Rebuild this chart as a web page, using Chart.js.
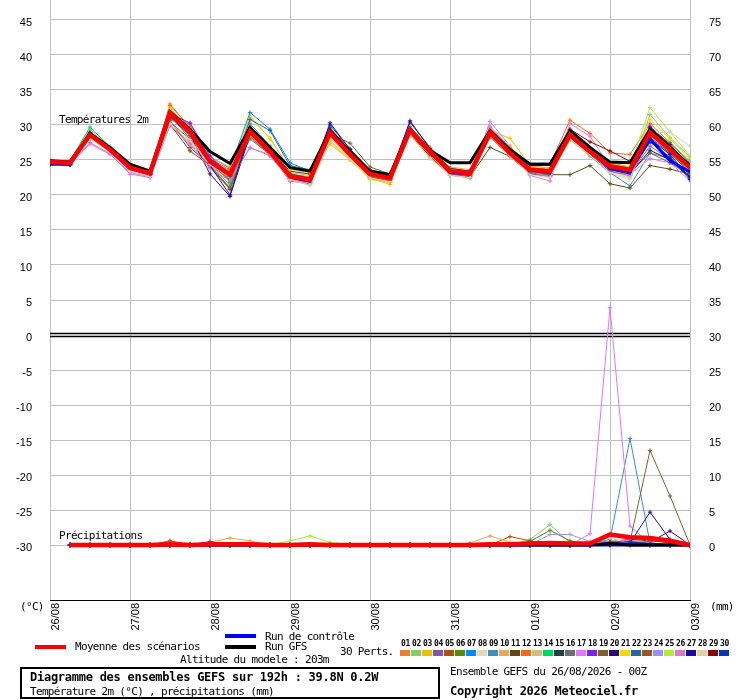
<!DOCTYPE html>
<html>
<head>
<meta charset="utf-8">
<script src="https://cdn.jsdelivr.net/npm/chart.js@4.4.1/dist/chart.umd.min.js"></script>
<style>
html,body{margin:0;padding:0;background:#fff;}
#wrap{position:relative;width:740px;height:700px;overflow:hidden;background:#fff;}
#c{position:absolute;left:0;top:0;}
.t{position:absolute;font-family:'DejaVu Sans Mono',monospace;font-size:11px;letter-spacing:-0.67px;color:#000;white-space:nowrap;line-height:12px;}
.b{font-weight:bold;font-size:12px;letter-spacing:-0.26px;}
.bar{position:absolute;height:4px;width:31px;}
.num{position:absolute;top:639px;width:11px;text-align:center;font-family:'DejaVu Sans Mono',monospace;font-weight:bold;font-size:8px;letter-spacing:-0.4px;line-height:9px;color:#000;}
.box{position:absolute;top:650px;width:10px;height:6px;}
#frame{position:absolute;left:20px;top:667px;width:420px;height:32px;box-sizing:border-box;border:2px solid #000;}
</style>
</head>
<body>
<div id="wrap">
<canvas id="c" width="740" height="700"></canvas>
<div class="t" style="left:59px;top:114px">Températures 2m</div>
<div class="t" style="left:59px;top:530px">Précipitations</div>
<div class="t" style="left:20px;top:601px">(°C)</div>
<div class="t" style="left:710px;top:601px">(mm)</div>
<div class="bar" style="left:35px;top:645px;background:#ff0000"></div>
<div class="t" style="left:75px;top:641px">Moyenne des scénarios</div>
<div class="bar" style="left:225px;top:634px;background:#0000ff"></div>
<div class="t" style="left:265px;top:631px">Run de contrôle</div>
<div class="bar" style="left:225px;top:645px;background:#000000"></div>
<div class="t" style="left:265px;top:641px">Run GFS</div>
<div class="t" style="left:180px;top:654px">Altitude du modele : 203m</div>
<div class="t" style="left:340px;top:646px">30 Perts.</div>
<div id="perts"></div>
<div id="frame"></div>
<div class="t b" style="left:30px;top:671px">Diagramme des ensembles GEFS sur 192h : 39.8N 0.2W</div>
<div class="t" style="left:30px;top:686px">Température 2m (°C) , précipitations (mm)</div>
<div class="t" style="left:450px;top:666px">Ensemble GEFS du 26/08/2026 - 00Z</div>
<div class="t b" style="left:450px;top:685px">Copyright 2026 Meteociel.fr</div>
</div>
<script>
// ---- x axis ----
const hours = [0,6,12,18,24,30,36,42,48,54,60,66,72,78,84,90,96,102,108,114,120,126,132,138,144,150,156,162,168,174,180,186,192];
const dayHours = [0,24,48,72,96,120,144,168,192];
const dayLabels = ['26/08','27/08','28/08','29/08','30/08','31/08','01/09','02/09','03/09'];
const leftTicks = [-30,-25,-20,-15,-10,-5,0,5,10,15,20,25,30,35,40,45];
const rightTicks = [0,5,10,15,20,25,30,35,40,45,50,55,60,65,70,75];

// ---- temperature 2m (°C) ----
const tMean = [24.7,24.6,28.6,26.5,23.9,23.1,31.7,29.1,24.8, 22.9,29.1,26.2,22.7,22.2,28.9,25.8,23.0, 22.4,29.3,26.2,23.4,23.1,28.9,26.0,23.6, 23.4,28.6,26.2,24.1,23.6,28.9,26.5,23.9];
const tControl = [24.4,24.4,28.8,26.5,23.8,23.0,31.5,29.4,25.0, 22.9,29.6,26.4,22.6,22.0,29.0,26.0,23.0, 22.4,29.4,26.2,23.2,23.0,29.0,26.2,24.4, 24.4,29.0,26.4,23.8,23.4,28.0,24.9,23.3];
const tGFS = [24.9,24.7,28.8,26.8,24.4,23.4,31.9,29.4,26.2, 24.5,29.6,26.8,23.9,23.4,29.2,26.2,23.4, 22.9,29.4,26.4,24.6,24.6,29.2,26.5,24.4, 24.4,29.2,26.8,24.7,24.6,29.4,26.8,24.2];
const t01 = [24.6,24.5,28.9,26.6,24.0,23.2,33.0,29.5,25.0, 23.4,29.5,26.5,23.0,22.6,29.2,26.0,23.2, 22.8,29.8,26.5,23.8,23.5,29.4,26.4,24.0, 23.6,29.2,26.8,24.6,24.0,29.6,27.0,24.4];
const t02 = [24.8,24.7,29.4,26.8,24.2,23.3,31.2,28.6,24.4, 22.5,28.5,25.9,22.3,21.8,28.6,25.5,22.6, 22.0,28.8,26.0,23.1,22.8,28.4,25.8,23.2, 22.9,28.2,26.0,23.8,23.2,31.5,28.2,25.4];
const t03 = [24.5,24.4,28.2,26.3,23.7,23.0,32.6,28.9,24.6, 22.8,31.3,28.0,23.8,23.4,27.3,25.0,22.4, 21.5,29.0,26.5,23.5,23.2,29.2,28.1,24.2, 23.8,28.9,26.5,24.0,23.4,29.4,26.8,24.0];
const t04 = [24.6,24.5,28.3,26.4,23.8,23.0,30.8,30.2,25.2, 21.8,29.6,26.4,22.9,22.3,29.0,25.9,23.1, 22.5,29.4,26.3,23.3,23.0,29.0,26.1,23.5, 23.2,28.4,26.1,23.9,23.4,28.6,26.4,23.5];
const t05 = [24.4,24.3,28.5,26.5,23.8,22.9,31.5,28.0,24.0, 20.8,28.4,25.8,22.0,21.6,28.4,25.4,22.4, 21.8,29.0,25.9,23.0,22.6,28.5,25.7,23.2, 23.0,28.8,26.3,24.2,23.8,29.0,26.6,23.8];
const t06 = [24.7,24.6,28.8,26.6,24.0,23.2,31.9,29.0,24.6, 22.0,28.3,25.6,22.4,21.9,28.7,25.6,22.8, 22.2,29.1,26.0,23.2,22.9,28.3,25.6,23.0, 22.8,27.9,25.8,23.6,23.0,28.4,26.0,23.4];
const t07 = [24.6,24.6,28.6,26.4,23.9,23.1,31.3,29.3,25.5, 23.8,31.8,29.4,24.6,23.4,29.2,26.0,23.2, 22.6,29.6,26.4,23.6,23.3,29.0,26.2,23.7, 23.4,28.7,26.3,24.2,23.5,29.1,26.4,23.6];
const t08 = [24.5,24.4,28.0,26.2,23.5,22.8,30.4,27.8,24.2, 22.4,28.6,26.0,22.4,21.9,28.4,25.3,22.6, 22.0,28.9,25.6,23.0,22.8,28.5,25.8,23.1, 22.6,27.8,25.5,23.0,22.2,28.4,26.2,23.4];
const t09 = [24.6,24.5,28.7,26.5,23.9,23.0,31.6,29.0,24.5, 22.6,30.2,27.0,22.8,22.1,29.0,25.8,22.9, 22.3,29.3,26.2,23.3,23.0,28.8,26.0,23.3, 23.1,28.2,25.6,23.2,21.3,26.0,25.2,23.0];
const t10 = [24.7,24.6,28.4,26.6,24.1,23.4,32.2,29.6,25.4, 24.0,29.8,26.8,23.2,22.8,29.4,26.2,23.4, 22.9,29.7,26.6,24.0,23.6,29.3,26.5,24.1, 23.9,29.0,26.7,24.5,24.0,29.6,27.1,24.2];
const t11 = [24.5,24.4,28.3,26.3,23.7,22.9,30.1,26.3,24.2, 21.0,28.8,26.0,22.6,22.0,28.6,25.6,22.8, 22.2,28.7,25.5,22.8,22.6,26.8,25.5,23.0, 22.9,22.9,24.2,21.6,21.0,24.2,23.7,23.0];
const t12 = [24.6,24.5,28.9,26.7,24.1,23.3,32.8,29.8,25.2, 23.6,29.3,26.4,23.0,22.4,29.0,26.0,23.2, 22.6,29.5,26.4,23.8,23.4,29.6,26.6,24.3, 24.4,30.7,28.8,26.0,25.8,30.2,27.5,24.8];
const t13 = [24.6,24.5,28.1,26.2,23.6,22.9,30.0,27.6,24.0, 22.3,28.2,25.7,22.1,21.4,27.6,25.0,22.5, 21.9,28.5,25.3,22.9,22.4,28.2,25.8,23.1, 22.8,28.0,25.6,23.4,22.6,28.0,25.8,23.3];
const t14 = [24.9,24.9,29.7,26.9,24.2,23.4,31.8,29.2,24.4, 21.4,28.4,26.0,22.5,21.7,28.8,25.8,23.0, 22.4,29.2,26.2,23.4,23.1,28.8,26.0,23.4, 23.2,28.5,26.2,23.8,23.4,29.6,27.4,24.6];
const t15 = [24.5,24.5,28.7,26.5,23.9,23.1,31.4,28.8,24.6, 22.4,28.9,26.4,23.4,23.0,30.0,26.6,23.6, 23.0,30.4,26.8,23.8,23.4,28.6,25.9,23.4, 23.2,28.4,26.0,24.0,23.6,27.6,25.4,22.6];
const t16 = [24.6,24.5,28.5,26.4,23.8,23.0,31.0,28.5,24.4, 22.8,28.0,25.8,22.7,22.2,28.6,25.8,23.0, 22.5,29.0,25.9,23.2,22.8,28.3,25.6,23.0, 22.6,28.3,25.9,23.6,23.0,27.0,25.0,23.4];
const t17 = [24.6,24.4,27.3,25.8,23.2,22.6,29.9,27.4,24.0, 22.6,26.7,25.8,22.6,22.0,28.2,25.4,22.7, 22.1,29.6,26.0,23.0,22.4,30.5,27.0,22.8, 22.0,30.2,28.4,24.0,23.0,25.2,24.6,22.0];
const t18 = [24.5,24.4,28.7,26.6,24.0,23.2,31.6,30.3,25.6, 22.8,29.0,26.2,22.6,22.1,28.9,25.8,23.0, 22.4,29.3,26.2,23.4,23.1,29.0,26.1,23.6, 23.4,28.8,26.4,24.2,23.7,29.8,27.2,24.0];
const t19 = [24.6,24.5,28.6,26.5,23.9,23.1,30.6,26.8,24.2, 20.9,28.6,26.1,22.6,22.0,28.8,27.4,24.0, 23.0,29.0,26.2,23.3,22.9,28.7,25.9,23.5, 23.2,28.5,26.0,23.8,23.2,26.0,24.6,22.8];
const t20 = [24.4,24.3,28.4,26.3,23.7,22.9,31.2,28.6,23.0, 19.8,28.6,26.0,22.4,21.8,28.7,25.7,22.8, 22.2,29.2,26.1,23.2,22.8,28.8,25.9,23.3, 23.1,28.5,26.0,23.6,23.0,26.4,25.0,22.6];
const t21 = [24.6,24.5,28.8,26.6,24.0,23.2,32.4,29.2,24.9, 23.0,31.0,28.2,23.6,23.2,27.8,25.2,22.2, 21.8,28.9,26.8,23.6,23.3,29.1,27.0,23.9, 23.6,29.0,26.6,24.2,23.8,30.8,28.0,25.2];
const t22 = [24.6,24.5,28.6,26.4,23.8,23.0,31.2,28.8,24.6, 22.4,30.8,29.2,24.2,23.6,29.0,25.9,23.0, 22.4,29.4,26.1,23.3,23.0,28.7,25.8,23.2, 22.8,28.3,25.8,23.4,22.8,28.2,26.0,23.2];
const t23 = [24.5,24.4,28.4,26.4,23.8,23.0,30.4,28.0,24.4, 22.2,28.4,25.8,22.3,21.7,28.4,25.5,22.6, 22.0,28.8,25.8,23.0,22.7,28.4,25.8,23.3, 23.1,28.4,26.0,23.9,23.4,28.8,26.6,23.6];
const t24 = [24.7,24.6,28.5,26.5,23.9,23.1,31.4,28.7,24.6, 22.6,29.0,26.2,22.8,22.2,28.8,25.8,22.9, 22.4,29.2,26.2,23.4,23.1,28.8,26.0,23.5, 23.2,28.6,26.1,23.9,23.4,29.2,27.0,24.2];
const t25 = [24.7,24.6,28.9,26.7,24.1,23.3,32.0,29.4,25.0, 23.2,29.4,26.6,23.0,22.4,29.0,26.0,23.2, 22.6,29.4,26.4,23.6,23.3,29.0,26.2,23.7, 23.5,28.8,26.5,24.4,24.0,32.5,29.0,25.6];
const t26 = [24.5,24.3,27.5,25.9,23.0,22.5,30.0,27.2,23.8, 22.0,26.8,25.6,22.2,21.7,28.4,25.6,22.7, 22.2,29.0,26.1,23.3,23.0,29.8,26.8,23.4, 22.6,28.4,26.0,23.5,22.8,27.8,26.6,24.5];
const t27 = [24.4,24.3,28.8,26.5,23.8,23.0,31.6,29.0,24.2, 20.0,29.2,26.4,22.7,22.2,30.3,26.5,23.2, 22.6,30.6,26.6,23.5,23.1,28.9,26.1,23.4, 23.1,28.8,26.2,23.6,23.2,28.0,25.8,22.4];
const t28 = [24.6,24.5,28.2,26.2,23.4,22.7,30.2,27.9,24.3, 22.5,28.5,26.0,22.2,21.4,28.3,25.2,22.4, 21.9,28.6,25.2,22.8,22.5,28.4,25.6,22.9, 22.5,28.0,25.7,23.2,22.4,28.8,29.0,27.0];
const t29 = [24.6,24.5,28.6,26.5,23.9,23.1,31.8,29.2,24.8, 22.9,29.0,26.2,22.7,22.2,28.9,25.9,23.0, 22.4,29.4,26.3,23.4,23.1,28.9,26.1,23.8, 23.6,29.4,27.6,26.3,24.8,29.6,27.2,24.2];
const t30 = [24.5,24.4,28.9,26.6,23.9,23.0,31.5,29.0,24.7, 22.7,29.6,26.6,23.0,22.4,29.6,26.3,23.3, 22.7,29.5,26.3,23.5,23.2,29.0,26.2,23.6, 23.3,28.9,26.4,23.8,23.3,27.6,25.3,22.2];

// ---- precipitation (mm / 6h) ----
const pMean = [null, 0,0,0,0,0,0.1,0,0.1, 0.1,0.1,0,0,0.1,0,0,0, 0,0,0,0,0,0.1,0.1,0.2, 0.3,0.2,0.2,1.5,1.1,1.0,0.6,0];
const pControl = [null, 0,0,0,0,0,0,0,0, 0,0,0,0,0,0,0,0, 0,0,0,0,0,0,0,0, 0,0,0,0,0,0,0,0];
const pGFS = [null, 0,0,0,0,0,0,0,0, 0,0,0,0,0,0,0,0, 0,0,0,0,0,0,0,0, 0,0,0,0.2,0,0,0,0];
const p01 = [null, 0,0,0,0,0,0.5,0.2,0, 0,0,0,0,0,0,0,0, 0,0,0,0,0,0,0,0, 0,0,0,0.3,0.2,0,0,0];
const p02 = [null, 0,0,0,0,0,0,0,0, 0,0,0,0,0,0,0,0, 0,0,0,0,0,0,0,0.8, 2.9,0.3,0,0.4,0.2,0,0,0];
const p03 = [null, 0,0,0,0,0,0,0,0, 0,0,0,0,0,0,0,0, 0,0,0,0,0,0,0,0, 0,0,0,0.2,0,0,0,0];
const p04 = [null, 0,0,0,0,0,0,0,0, 0,0,0,0,0,0,0,0, 0,0,0,0,0,0,0,0, 0,0,0.2,0.5,0,0,0,0];
const p05 = [null, 0,0,0,0,0,0.6,0,0, 0,0,0,0,0,0,0,0, 0,0,0,0,0,0,1.2,0.6, 0.2,0,0,0.4,0,0,0,0];
const p06 = [null, 0,0,0,0,0,0,0,0, 0,0,0,0,0,0,0,0, 0,0,0,0,0,0,0,0.5, 2.1,0.6,0,0.3,0,0,0,0];
const p07 = [null, 0,0,0,0,0,0,0,0, 0,0,0,0,0,0,0,0, 0,0,0,0,0,0,0,0, 0,0,0,0.2,0.3,0,0,0];
const p08 = [null, 0,0,0,0,0,0,0,0, 0,0,0,0,0,0,0,0, 0,0,0,0,0,0,0,0, 0,0,0,1.8,0.4,0,0,0];
const p09 = [null, 0,0,0,0,0,0,0,0, 0,0,0,0,0,0,0,0, 0,0,0,0,0,0,0,0, 0,0,0.2,0.8,15.2,0.3,0,0];
const p10 = [null, 0,0,0,0,0,0,0,0.4, 1.0,0.6,0,0,0,0,0,0, 0,0,0,0,0.3,1.3,0.4,0, 0,0,0,0.6,0,0,0,0];
const p11 = [null, 0,0,0,0,0,0,0,0, 0,0,0,0,0,0,0,0, 0,0,0,0,0,0,0,0, 0,0,0.3,0.5,0.8,0.6,0.4,0];
const p12 = [null, 0,0,0,0,0,0,0,0, 0,0,0,0,0,0,0,0, 0,0,0,0,0,0,0,0, 0,0,0,0,0,0,0,0];
const p13 = [null, 0,0,0,0,0,0,0,0, 0,0,0,0,0,0,0,0, 0,0,0,0,0,0,0,0, 0,0,0,0.6,0.3,0,0,0];
const p14 = [null, 0,0,0,0,0,0,0,0, 0,0,0,0,0,0,0,0, 0,0,0,0,0,0,0,0, 0,0,0,0.3,0,0.2,0,0];
const p15 = [null, 0,0,0,0,0,0,0,0, 0,0,0,0,0,0,0,0, 0,0,0,0,0,0,0,0, 0,0,0,0.2,0.5,0.3,0,0];
const p16 = [null, 0,0,0,0,0,0,0,0, 0,0,0,0,0,0,0,0, 0,0,0,0,0,0,0,0, 0,0,0,0.4,0.6,0.2,0,0];
const p17 = [null, 0,0,0,0,0,0,0,0, 0,0,0,0,0,0,0,0, 0,0,0,0,0,0,0,0, 0,0,1.6,33.9,2.7,0.2,0,0];
const p18 = [null, 0,0,0,0,0,0,0,0.5, 0,0,0,0,0,0,0,0, 0,0,0,0,0,0,0,0, 0,0,0,0.2,0,0,0,0];
const p19 = [null, 0,0,0,0,0,0,0,0, 0,0,0,0,0,0,0,0, 0,0,0,0,0,0,0,0, 0,0,0,0,0.5,13.5,7.0,0];
const p20 = [null, 0,0,0,0,0,0,0,0, 0,0,0,0,0,0,0,0, 0,0,0,0,0,0,0,0, 0,0,0,0,0.2,0.4,2.0,0];
const p21 = [null, 0,0,0,0,0,0,0,0, 0,0,0,0,0,0,0,0, 0,0,0,0,0,0,0,0, 0,0,0,0.3,0,0,0,0];
const p22 = [null, 0,0,0,0,0,0,0,0, 0,0,0,0,0,0,0,0, 0,0,0,0,0,0,0,0, 0,0,0,0.5,0.4,0.1,0,0];
const p23 = [null, 0,0,0,0,0,0,0,0, 0,0,0,0,0,0,0,0, 0,0,0,0,0,0,0,0, 0,0,0,0.4,0.2,0.6,0.3,0];
const p24 = [null, 0,0,0,0,0,0,0,0, 0,0,0,0,0,0,0,0, 0,0,0,0,0,0,0,0, 1.5,1.5,0.5,0.2,0,0,0,0];
const p25 = [null, 0,0,0,0,0,0,0,0, 0,0,0,0.6,1.3,0.4,0,0, 0,0,0,0,0,0,0,0, 0,0,0,0.2,0,0,0,0];
const p26 = [null, 0,0,0,0,0,0,0,0, 0,0,0,0,0,0,0,0, 0,0,0,0,0,0,0,0, 0,0,0,0.5,0.7,0.3,0,0];
const p27 = [null, 0,0,0,0,0,0,0,0, 0,0,0,0,0,0,0,0, 0,0,0,0,0,0,0,0, 0,0,0,0,0.3,4.7,0.8,0];
const p28 = [null, 0,0,0,0,0,0,0,0, 0,0,0,0,0,0,0,0, 0,0,0,0,0,0,0,0, 0,0,0.3,1.0,0.2,0,0,0];
const p29 = [null, 0,0,0,0,0,0,0,0, 0,0,0,0,0,0,0,0, 0,0,0,0,0,0,0,0, 0,0,0,0.3,0.2,0,0,0];
const p30 = [null, 0,0,0,0,0,0,0,0, 0,0,0,0,0,0,0,0, 0,0,0,0,0,0,0,0, 0,0,0,0.4,0.4,0.2,0,0];

const memberNames = ['01','02','03','04','05','06','07','08','09','10','11','12','13','14','15','16','17','18','19','20','21','22','23','24','25','26','27','28','29','30'];
const memberColors = ['#e88030','#88c870','#f0c000','#8850a8','#b05010','#588808','#0888f8','#e8d8b0','#3890c0','#e8a858','#604818','#f86818','#d0c080','#00d860','#204050','#687078','#e078f0','#8020f0','#806030','#300870','#f0d800','#2868a0','#985820','#a090f0','#a8f030','#d878d0','#2008a0','#e0d0b0','#880808','#0038b8'];
const memberTemps = [t01,t02,t03,t04,t05,t06,t07,t08,t09,t10,t11,t12,t13,t14,t15,t16,t17,t18,t19,t20,t21,t22,t23,t24,t25,t26,t27,t28,t29,t30];
const memberPrecs = [p01,p02,p03,p04,p05,p06,p07,p08,p09,p10,p11,p12,p13,p14,p15,p16,p17,p18,p19,p20,p21,p22,p23,p24,p25,p26,p27,p28,p29,p30];

// ---- legend swatches ----
const perts = document.getElementById('perts');
memberNames.forEach((n, i) => {
  const num = document.createElement('div');
  num.className = 'num'; num.style.left = (400 + i * 11) + 'px'; num.textContent = n;
  perts.appendChild(num);
  const box = document.createElement('div');
  box.className = 'box'; box.style.left = (400 + i * 11) + 'px'; box.style.background = memberColors[i];
  perts.appendChild(box);
});

function series(vals) { return vals.map((v, i) => ({ x: hours[i], y: v })); }

const datasets = [];
function thick(label, vals, color, w, axis) {
  datasets.push({ label, data: series(vals), yAxisID: axis, borderColor: color, backgroundColor: color,
    borderWidth: w, pointRadius: 0, tension: 0, spanGaps: false });
}
thick('Moyenne T', tMean, '#ff0000', 4.5, 'y');
thick('Moyenne P', pMean, '#ff0000', 4.5, 'y2');
thick('GFS T', tGFS, '#000000', 3, 'y');
thick('GFS P', pGFS, '#000000', 3, 'y2');
thick('Contrôle T', tControl, '#0000ff', 3, 'y');
thick('Contrôle P', pControl, '#0000ff', 3, 'y2');
for (let i = memberTemps.length - 1; i >= 0; i--) {
  const c = memberColors[i];
  [[memberTemps[i], 'y'], [memberPrecs[i], 'y2']].forEach(([vals, axis]) => {
    datasets.push({ label: 'P' + memberNames[i] + axis, data: series(vals), yAxisID: axis,
      borderColor: c, backgroundColor: c, borderWidth: 1, pointStyle: 'cross',
      pointRadius: 2.2, pointBorderWidth: 1, pointBorderColor: c, tension: 0, spanGaps: false });
  });
}

const zeroLine = {
  id: 'zeroLine',
  beforeDatasetsDraw(chart) {
    const { ctx, chartArea, scales } = chart;
    const y = scales.y.getPixelForValue(0);
    ctx.save();
    ctx.strokeStyle = '#000';
    ctx.lineWidth = 1.5;
    [-1.5, 1.5].forEach(d => {
      ctx.beginPath();
      ctx.moveTo(chartArea.left, y + d);
      ctx.lineTo(chartArea.right, y + d);
      ctx.stroke();
    });
    ctx.restore();
  }
};

const tickFont = { family: "'Liberation Sans', Arial, sans-serif", size: 11 };

new Chart(document.getElementById('c'), {
  type: 'line',
  data: { datasets },
  plugins: [zeroLine],
  options: {
    responsive: false,
    animation: false,
    events: [],
    layout: { padding: 0, autoPadding: false },
    plugins: { legend: { display: false }, tooltip: { enabled: false } },
    scales: {
      x: {
        type: 'linear', min: 0, max: 192,
        afterBuildTicks: s => { s.ticks = dayHours.map(v => ({ value: v })); },
        afterFit: s => { s.height = 100; s.paddingLeft = 0; s.paddingRight = 0; },
        grid: { color: '#c0c0c0', lineWidth: 1, drawTicks: false },
        border: { display: true, color: '#000000', width: 1 },
        ticks: {
          autoSkip: false, minRotation: 90, maxRotation: 90, padding: 3, labelOffset: 6,
          color: '#000', font: tickFont,
          callback: v => dayLabels[dayHours.indexOf(v)]
        }
      },
      y: {
        type: 'linear', position: 'left', min: -37.857, max: 47.857,
        afterBuildTicks: s => { s.ticks = leftTicks.map(v => ({ value: v })); },
        afterFit: s => { s.width = 50; s.paddingTop = 0; s.paddingBottom = 0; },
        grid: { color: c => (c.tick && c.tick.value === 0) ? 'rgba(0,0,0,0)' : '#c0c0c0', lineWidth: 1, drawTicks: false },
        border: { display: false },
        ticks: { padding: 18, labelOffset: 2.5, color: '#000', font: tickFont, callback: v => String(v) }
      },
      y2: {
        type: 'linear', position: 'right', min: -7.857, max: 77.857,
        afterBuildTicks: s => { s.ticks = rightTicks.map(v => ({ value: v })); },
        afterFit: s => { s.width = 50; s.paddingTop = 0; s.paddingBottom = 0; },
        grid: { display: false, drawTicks: false },
        border: { display: false },
        ticks: { padding: 19, labelOffset: 2.5, color: '#000', font: tickFont, callback: v => String(v) }
      }
    }
  }
});
</script>
</body>
</html>
